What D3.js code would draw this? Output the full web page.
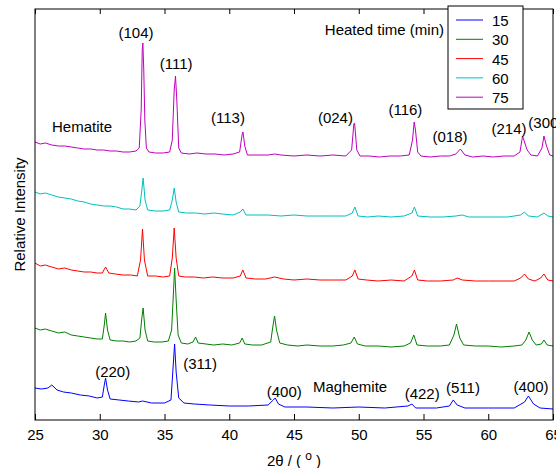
<!DOCTYPE html>
<html>
<head>
<meta charset="utf-8">
<script src="https://cdn.jsdelivr.net/npm/d3@7"></script>
<style>
  body { margin: 0; background: #fff; }
  text { font-family: "Liberation Sans", Arial, sans-serif; fill: #000; }
</style>
</head>
<body>
<div></div>
<script>
// 2theta (deg) vs relative intensity (arbitrary units, offset per trace)
var t15 = [
  [25.0,32],[25.5,31],[26.0,32],[26.3,35],[26.7,30],[27.2,28],[27.8,27],[28.5,25],
  [29.2,24],[29.8,22],[30.2,23],[30.35,35],[30.45,42],[30.6,30],[30.8,21],[31.5,20],
  [32.2,19],[33.0,18],[33.3,19],[34.0,17],[35.0,17],[35.5,20],[35.65,50],[35.78,76],
  [35.9,48],[36.1,22],[36.5,17],[37.3,16],[38.5,15],[40.0,14],[41.5,14],[43.0,15],
  [43.4,20],[43.55,22],[43.8,16],[44.3,13],[46.0,13],[48.0,12],[50.0,13],[52.0,12],
  [53.8,14],[54.1,16],[54.4,12],[56.0,12],[57.0,14],[57.3,20],[57.6,15],[58.2,12],
  [60.0,12],[62.0,12],[62.8,18],[63.1,24],[63.5,16],[64.0,12],[65.0,11]
];
var t30 = [
  [25.0,92],[25.4,90],[25.8,91],[26.3,89],[26.8,87],[27.3,88],[27.8,85],[28.3,84],
  [28.8,83],[29.3,82],[29.8,81],[30.2,81],[30.35,95],[30.45,107],[30.6,90],[30.8,80],
  [31.3,79],[31.8,79],[32.3,78],[32.8,79],[33.1,82],[33.25,102],[33.35,112],[33.5,90],
  [33.7,79],[34.2,78],[34.8,78],[35.3,79],[35.55,90],[35.7,130],[35.78,152],[35.9,120],
  [36.05,85],[36.3,77],[36.8,76],[37.2,78],[37.4,83],[37.6,77],[38.2,76],[38.8,75],
  [39.5,76],[40.2,75],[40.8,77],[41.0,82],[41.2,76],[41.8,75],[42.5,75],[43.2,78],
  [43.35,92],[43.5,104],[43.65,90],[43.9,77],[44.5,75],[45.3,74],[46.0,75],[47.0,74],
  [48.0,74],[48.8,75],[49.4,77],[49.65,83],[49.9,76],[50.5,74],[51.5,74],[52.5,73],
  [53.5,74],[54.0,77],[54.25,85],[54.5,75],[55.3,74],[56.3,74],[57.0,75],[57.35,85],
  [57.55,96],[57.8,82],[58.1,75],[59.0,74],[60.0,74],[61.0,73],[62.0,74],[62.6,75],
  [62.9,80],[63.15,88],[63.4,80],[63.7,75],[64.1,76],[64.3,80],[64.55,75],[65.0,74]
];
var t45 = [
  [25.0,157],[25.4,154],[25.8,155],[26.3,153],[26.8,151],[27.3,152],[27.8,150],[28.3,149],
  [28.8,148],[29.3,148],[29.8,147],[30.2,147],[30.45,153],[30.7,147],[31.2,146],[31.8,145],
  [32.4,145],[32.9,144],[33.15,160],[33.3,191],[33.45,160],[33.7,144],[34.3,144],[34.9,143],
  [35.4,144],[35.6,162],[35.75,192],[35.9,162],[36.1,144],[36.6,143],[37.3,143],[38.0,142],
  [38.7,143],[39.5,142],[40.3,142],[40.85,144],[41.05,150],[41.3,142],[42.0,141],[42.8,141],
  [43.5,143],[44.2,141],[45.0,140],[46.0,141],[47.0,140],[48.0,140],[49.0,140],[49.5,144],
  [49.7,150],[49.95,141],[50.6,140],[51.5,139],[52.5,140],[53.5,139],[54.1,144],[54.3,150],
  [54.55,140],[55.3,139],[56.3,139],[57.3,140],[57.6,142],[58.0,140],[59.0,139],[60.0,139],
  [61.0,139],[62.0,139],[62.5,142],[62.8,146],[63.1,141],[63.6,139],[64.05,142],[64.3,146],
  [64.6,140],[65.0,139]
];
var t60 = [
  [25.0,228],[25.4,226],[25.8,227],[26.3,225],[26.8,223],[27.3,222],[27.8,221],[28.3,219],
  [28.8,218],[29.3,216],[29.8,215],[30.3,214],[30.8,214],[31.3,213],[31.8,211],[32.3,211],
  [32.8,210],[33.1,214],[33.25,230],[33.35,242],[33.5,220],[33.7,210],[34.3,209],[34.9,209],
  [35.4,210],[35.6,220],[35.75,232],[35.9,218],[36.1,208],[36.7,207],[37.4,207],[38.1,206],
  [38.8,207],[39.5,206],[40.3,205],[40.85,208],[41.05,211],[41.3,205],[42.0,205],[43.0,205],
  [44.0,204],[45.0,205],[46.0,204],[47.0,204],[48.0,204],[49.0,204],[49.5,207],[49.7,213],
  [49.95,204],[50.7,203],[51.5,204],[52.5,203],[53.5,204],[54.1,207],[54.3,213],[54.55,204],
  [55.5,203],[56.5,203],[57.5,204],[58.0,205],[58.5,203],[59.5,203],[60.5,203],[61.5,203],
  [62.5,205],[62.8,208],[63.1,204],[63.8,203],[64.3,207],[64.6,204],[65.0,203]
];
var t75 = [
  [25.0,278],[25.4,276],[25.8,277],[26.3,275],[26.8,274],[27.3,274],[27.8,273],[28.3,272],
  [28.8,271],[29.3,271],[29.8,270],[30.3,270],[30.8,269],[31.3,269],[31.8,268],[32.3,268],
  [32.8,269],[33.05,272],[33.2,310],[33.28,370],[33.33,377],[33.4,350],[33.48,300],[33.6,272],
  [33.8,268],[34.3,267],[34.9,267],[35.4,268],[35.6,280],[35.75,330],[35.85,344],[35.95,320],
  [36.1,272],[36.3,267],[36.9,266],[37.5,267],[38.2,266],[38.9,266],[39.6,265],[40.3,266],
  [40.8,268],[41.0,286],[41.06,288],[41.2,274],[41.4,265],[42.0,265],[43.0,265],[43.5,266],
  [44.0,265],[45.0,264],[46.0,265],[47.0,264],[48.0,265],[49.0,264],[49.45,270],[49.62,296],
  [49.68,297],[49.85,270],[50.1,264],[50.8,264],[51.6,263],[52.4,264],[53.2,264],[53.9,265],
  [54.15,280],[54.28,298],[54.38,290],[54.55,268],[54.8,264],[55.5,263],[56.3,264],[57.0,264],
  [57.5,266],[57.85,271],[58.2,265],[58.8,263],[59.6,264],[60.4,263],[61.2,264],[62.0,264],
  [62.45,268],[62.65,284],[62.8,278],[63.0,270],[63.3,265],[63.8,264],[64.15,272],[64.3,284],
  [64.5,274],[64.75,265],[65.0,264]
];

var series = [t15, t30, t45, t60, t75];
var times = ["15", "30", "45", "60", "75"];
var colors = ["#0000ff", "#008000", "#ff0000", "#00bfbf", "#bf00bf"];
var xTicks = [25, 30, 35, 40, 45, 50, 55, 60, 65];

// peak labels: [text, 2theta, intensity]
var hematite = [
  ["(104)", 32.8, 382], ["(111)", 35.9, 351], ["(113)", 39.9, 297], ["(024)", 48.2, 297],
  ["(116)", 53.6, 305], ["(018)", 57.05, 278], ["(214)", 61.6, 286], ["(300)", 64.45, 292]
];
var maghemite = [
  ["(220)", 31.0, 43], ["(311)", 37.75, 51], ["(400)", 44.25, 23],
  ["(422)", 54.9, 21], ["(511)", 58.05, 27], ["(400)", 63.3, 28]
];

var W = 556, H = 468;
var padL = 35, padR = 553, padT = 9, padB = 420;

var svg = d3.select("div").append("svg")
    .attr("width", W)
    .attr("height", H);

var x = d3.scaleLinear().domain([25, 65]).range([padL, padR]);
var y = d3.scaleLinear().domain([0, 411]).range([padB, padT]);

var line = d3.line()
    .x(function(d) { return x(d[0]); })
    .y(function(d) { return y(d[1]); });

svg.selectAll("path.trace")
    .data(series)
    .enter().append("path")
    .attr("class", "trace")
    .attr("d", line)
    .attr("fill", "none")
    .attr("stroke", function(d, i) { return colors[i]; })
    .attr("stroke-width", 1);

// frame and ticks
svg.append("rect")
    .attr("x", padL).attr("y", padT)
    .attr("width", padR - padL).attr("height", padB - padT)
    .attr("fill", "none").attr("stroke", "#000").attr("stroke-width", 1);

svg.append("g")
    .attr("transform", "translate(0," + padB + ")")
    .call(d3.axisBottom(x).tickValues(xTicks).tickSizeInner(-6).tickSizeOuter(0).tickPadding(9))
    .call(function(g) {
        g.select(".domain").remove();
        g.selectAll("text").attr("font-size", 15).attr("font-family", "Liberation Sans, Arial, sans-serif");
    });

svg.append("g")
    .attr("transform", "translate(0," + padT + ")")
    .call(d3.axisTop(x).tickValues(xTicks).tickSizeInner(-5).tickSizeOuter(0).tickFormat(""))
    .call(function(g) { g.select(".domain").remove(); });

// axis titles
var xt = svg.append("text")
    .attr("x", (padL + padR) / 2).attr("y", 466)
    .attr("text-anchor", "middle").attr("font-size", 15);
xt.append("tspan").text("2\u03b8 / ( ");
xt.append("tspan").attr("dy", -6).attr("font-size", 12).text("o");
xt.append("tspan").attr("dy", 6).text(" )");

svg.append("text")
    .attr("transform", "translate(25," + ((padT + padB) / 2) + ") rotate(-90)")
    .attr("text-anchor", "middle").attr("font-size", 15)
    .text("Relative Intensity");

// peak labels
svg.selectAll("text.hem")
    .data(hematite)
    .enter().append("text")
    .attr("class", "hem")
    .attr("x", function(d) { return x(d[1]); })
    .attr("y", function(d) { return y(d[2]); })
    .attr("text-anchor", "middle").attr("font-size", 15)
    .text(function(d) { return d[0]; });

svg.selectAll("text.mag")
    .data(maghemite)
    .enter().append("text")
    .attr("class", "mag")
    .attr("x", function(d) { return x(d[1]); })
    .attr("y", function(d) { return y(d[2]); })
    .attr("text-anchor", "middle").attr("font-size", 15)
    .text(function(d) { return d[0]; });

svg.append("text").attr("x", 52).attr("y", 132).attr("font-size", 15).text("Hematite");
svg.append("text").attr("x", 313).attr("y", 392).attr("font-size", 15).text("Maghemite");
svg.append("text").attr("x", 444).attr("y", 35).attr("text-anchor", "end")
    .attr("font-size", 15).text("Heated time (min)");

// legend
var legend = svg.append("g").attr("transform", "translate(448,6)");
legend.append("rect")
    .attr("width", 75).attr("height", 103)
    .attr("fill", "#fff").attr("stroke", "#000").attr("stroke-width", 1);
var item = legend.selectAll("g.item")
    .data(times)
    .enter().append("g")
    .attr("class", "item")
    .attr("transform", function(d, i) { return "translate(0," + (14 + i * 19.3) + ")"; });
item.append("line")
    .attr("x1", 8).attr("x2", 35)
    .attr("stroke", function(d, i) { return colors[i]; })
    .attr("stroke-width", 1);
item.append("text")
    .attr("x", 44).attr("y", 6)
    .attr("font-size", 15)
    .text(function(d) { return d; });
</script>
</body>
</html>
